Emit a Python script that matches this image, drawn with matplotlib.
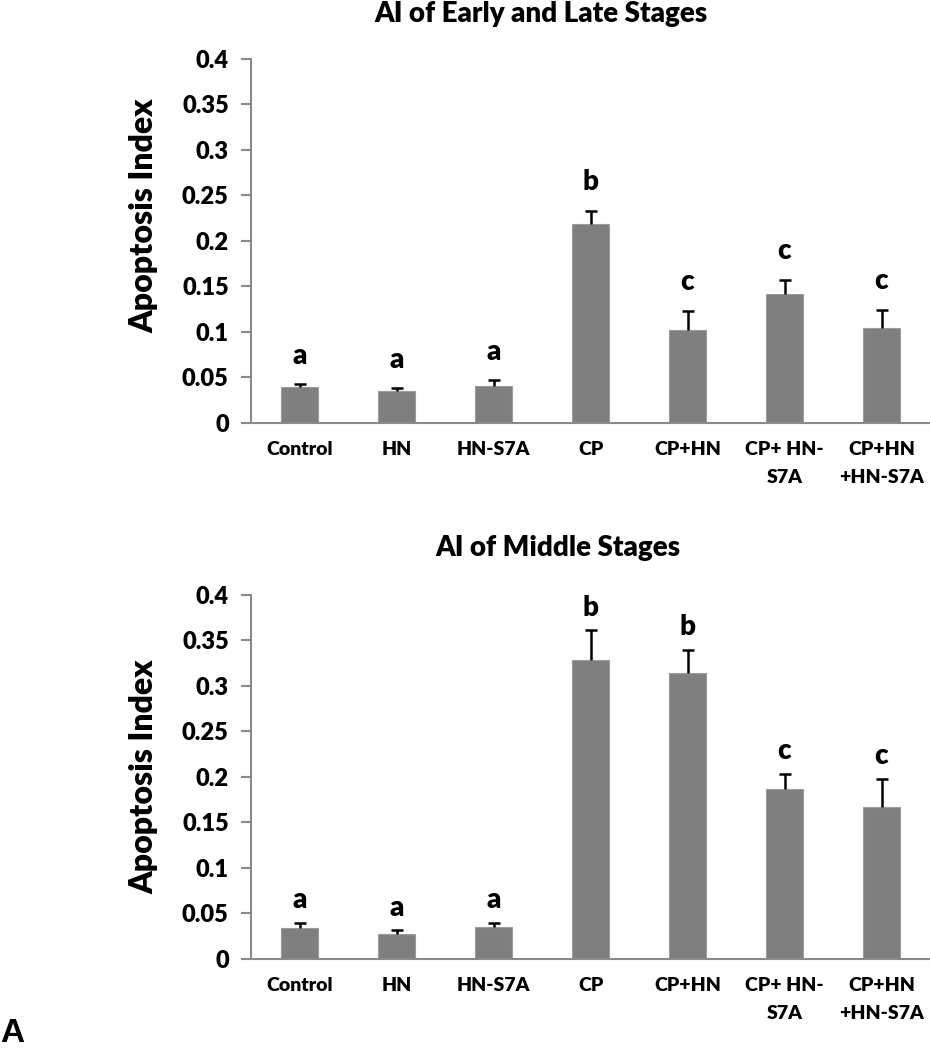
import matplotlib.pyplot as plt
import numpy as np

plt.rcParams['font.family'] = ['Lato', 'DejaVu Sans']

groups = ['Control', 'HN', 'HN-S7A', 'CP', 'CP+HN', 'CP+ HN-\nS7A', 'CP+HN\n+HN-S7A']

# AI of early and late stages
early_late = [0.039, 0.035, 0.040, 0.218, 0.102, 0.141, 0.104]
early_late_err = [0.003, 0.0026, 0.0069, 0.015, 0.021, 0.016, 0.020]
early_late_sig = ['a', 'a', 'a', 'b', 'c', 'c', 'c']

# AI of middle stages
middle = [0.0336, 0.0277, 0.0347, 0.328, 0.314, 0.187, 0.167]
middle_err = [0.006, 0.0037, 0.005, 0.033, 0.026, 0.016, 0.031]
middle_sig = ['a', 'a', 'a', 'b', 'b', 'c', 'c']

yticks = [0, 0.05, 0.1, 0.15, 0.2, 0.25, 0.3, 0.35, 0.4]
ytick_labels = ['0', '0.05', '0.1', '0.15', '0.2', '0.25', '0.3', '0.35', '0.4']

axis_grey = '#8a8a8a'
bar_grey = '#7f7f7f'
W = 'heavy'


def draw_panel(ax, vals, errs, sig, label_y, sig_offset):
    x = np.arange(len(groups))
    vals = np.array(vals)
    errs = np.array(errs)
    ax.bar(x, vals, width=0.38, color=bar_grey, edgecolor='#9c9c9c', linewidth=0.8, zorder=2)
    # upper error only, like excel "plus" error bars
    ax.vlines(x, vals, vals + errs, color='black', linewidth=1.8, zorder=3)
    ax.plot(x, vals + errs, ls='none', marker='_', ms=8, mew=1.8, color='black', zorder=3)
    for xi, v, e, s in zip(x, vals, errs, sig):
        ax.annotate(s, (xi, v + e), xytext=(0, sig_offset), textcoords='offset points',
                    ha='center', va='bottom', fontsize=20, fontweight=W)

    ax.set_xlim(-0.5, len(groups) - 0.5)
    ax.set_ylim(0, 0.4)
    ax.set_yticks(yticks)
    ax.set_yticklabels(ytick_labels, fontsize=17, fontweight=W)
    ax.set_xticks(x)
    ax.set_xticklabels(groups, fontsize=14, fontweight=W, linespacing=1.8)
    ax.tick_params(axis='y', direction='out', length=7, width=1.5, color=axis_grey, pad=9)
    ax.tick_params(axis='x', length=0, pad=13)
    for side in ['top', 'right']:
        ax.spines[side].set_visible(False)
    for side in ['left', 'bottom']:
        ax.spines[side].set_color(axis_grey)
        ax.spines[side].set_linewidth(1.5)
    ax.set_ylabel('Apoptosis Index', fontsize=23, fontweight=W)
    ax.yaxis.set_label_coords(-0.137, label_y)


fig = plt.figure(figsize=(9.3, 10.5), dpi=100)
ax1 = fig.add_axes([0.2699, 0.5975, 0.7301, 0.3467])
ax2 = fig.add_axes([0.2699, 0.0867, 0.7301, 0.3467])

draw_panel(ax1, early_late, early_late_err, early_late_sig, 0.568, 11)
draw_panel(ax2, middle, middle_err, middle_sig, 0.5, 7)

fig.text(0.582, 0.9867, 'AI of Early and Late Stages', ha='center', va='center',
         fontsize=20, fontweight=W)
fig.text(0.6, 0.478, 'AI of Middle Stages', ha='center', va='center',
         fontsize=20, fontweight=W)
fig.text(0.0, 0.016, 'A', ha='left', va='center', fontsize=24, fontweight='bold',
         family='Liberation Sans')

fig.savefig('out.png', dpi=100)
